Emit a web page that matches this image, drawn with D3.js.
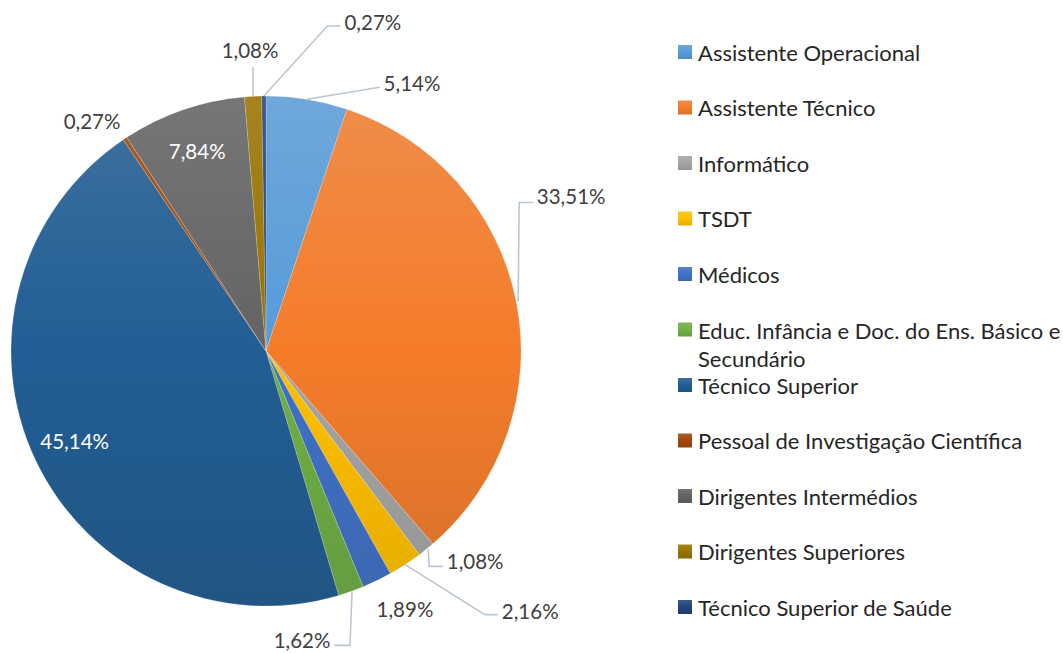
<!DOCTYPE html>
<html><head><meta charset="utf-8">
<script src="https://cdn.jsdelivr.net/npm/d3@7"></script>
<style>html,body{margin:0;padding:0;background:#fff;}svg{display:block;}</style>
</head><body>
<svg id="chart" width="1063" height="653"></svg>
<script>
const categories = ["Assistente Operacional","Assistente Técnico","Informático","TSDT","Médicos",
  "Educ. Infância e Doc. do Ens. Básico e Secundário","Técnico Superior","Pessoal de Investigação Científica",
  "Dirigentes Intermédios","Dirigentes Superiores","Técnico Superior de Saúde"];
const values = [5.14,33.51,1.08,2.16,1.89,1.62,45.14,0.27,7.84,1.08,0.27];
const valueLabels = ["5,14%","33,51%","1,08%","2,16%","1,89%","1,62%","45,14%","0,27%","7,84%","1,08%","0,27%"];
const colors = ["#5B9BD5","#ED7D31","#A5A5A5","#FFC000","#4472C4","#70AD47","#255E91","#9E480E","#636363","#997300","#264478"];
// label layout: mode "in" = inside; "out" = outside with offset from arc anchor; leader = elbow type
const labelLayout = [
  {mode:"out", dx:105, dy:-16, leader:"straight"},
  {mode:"out", dx:55, dy:-106, leader:"vh"},
  {mode:"out", dx:49, dy:12, leader:"vh"},
  {mode:"out", dx:125, dy:46, leader:"dh"},
  {mode:"out", dx:28, dy:28, leader:"none"},
  {mode:"out", dx:-49, dy:49, leader:"vh"},
  {mode:"in"},
  {mode:"out", dx:-33, dy:-18, leader:"none"},
  {mode:"in"},
  {mode:"out", dx:-3, dy:-46, leader:"vh"},
  {mode:"out", dx:109, dy:-74, leader:"dh"}
];

const svg = d3.select("#chart");
const cx = 266, cy = 351, R = 255;
const fontFam = "Lato, 'Open Sans', sans-serif";
const labelSize = 20.5, legendSize = 22;

function stopsFor(c){
  const h = d3.hsl(c); const mid = d3.hsl(h.h, Math.min(1,h.s*1.08), h.l).formatHex();
  return [
    [0, d3.interpolateRgb(c,"#fff")(0.12)],
    [0.5, mid],
    [1, d3.interpolateRgb(c,"#000")(0.1)]
  ];
}
const defs = svg.append("defs");
colors.forEach((c,i)=>{
  const g = defs.append("linearGradient").attr("id","g"+i)
    .attr("gradientUnits","userSpaceOnUse").attr("x1",0).attr("y1",-R).attr("x2",0).attr("y2",R);
  stopsFor(c).forEach(s=>g.append("stop").attr("offset",s[0]).attr("stop-color",s[1]));
  const lg = defs.append("linearGradient").attr("id","lg"+i).attr("x1",0).attr("y1",0).attr("x2",0).attr("y2",1);
  stopsFor(c).forEach(s=>lg.append("stop").attr("offset",s[0]).attr("stop-color",s[1]));
});

const pie = d3.pie().sort(null).value(d=>d.v);
const data = values.map((v,i)=>({v, i}));
const arcs = pie(data);
const arc = d3.arc().innerRadius(0).outerRadius(R);

const g = svg.append("g").attr("transform",`translate(${cx},${cy})`);
g.selectAll("path.slice").data(arcs).join("path").attr("class","slice")
  .attr("d",arc).attr("fill",d=>`url(#g${d.data.i})`)
  .attr("stroke","rgba(255,255,255,0.35)").attr("stroke-width",0.5);

const labelG = svg.append("g").attr("transform",`translate(${cx},${cy})`);
const lineColor = "#BCC6D3";
arcs.forEach((a,k)=>{
  const L = labelLayout[k];
  const mid = (a.startAngle+a.endAngle)/2;
  if (L.mode==="in"){
    const r = R*0.83;
    labelG.append("text").attr("x",Math.sin(mid)*r).attr("y",-Math.cos(mid)*r)
      .attr("text-anchor","middle").attr("dominant-baseline","central")
      .attr("font-family",fontFam).attr("font-size",labelSize).attr("fill","#fff")
      .text(valueLabels[k]);
    return;
  }
  const ax = Math.sin(mid)*R, ay = -Math.cos(mid)*R;
  const tx = ax+L.dx, ty = ay+L.dy;
  const t = labelG.append("text").attr("x",tx).attr("y",ty)
    .attr("text-anchor","middle").attr("dominant-baseline","central")
    .attr("font-family",fontFam).attr("font-size",labelSize).attr("fill","#404040")
    .text(valueLabels[k]);
  const w = t.node().getComputedTextLength();
  const left = tx - w/2 - 4, right = tx + w/2 + 4;
  let pts = null;
  const ex = L.dx>0 ? left : right;
  if (L.leader==="straight"){
    pts = [[ax,ay],[left,ty+4]];
  } else if (L.leader==="vh"){
    if (Math.abs(L.dx) < w/2) { pts = [[ax,ay],[ax,ty+17]]; }
    else {
      const vx = ax + (L.dx>0?3:-1);
      const hy = ty + (L.dy<0 ? 7 : 5);
      pts = [[ax+ (L.dx>0?2:1),ay],[vx,hy],[ex,hy]];
    }
  } else if (L.leader==="dh"){
    const hy = ty + 4;
    const bx = ex - (L.dx>0?13:-13);
    pts = [[ax,ay],[bx,hy],[ex,hy]];
  }
  if (pts){
    labelG.insert("path","text").attr("d",d3.line()(pts)).attr("fill","none")
      .attr("stroke",lineColor).attr("stroke-width",1.6);
  }
});

// legend
const lgG = svg.append("g");
const legX = 678, legY0 = 52, legStep = 55.5;
categories.forEach((c,i)=>{
  const y = legY0 + i*legStep;
  lgG.append("rect").attr("x",legX).attr("y",y-7).attr("width",14).attr("height",14).attr("fill",`url(#lg${i})`);
  const t = lgG.append("text").attr("x",legX+20).attr("y",y).attr("dominant-baseline","central")
    .attr("font-family",fontFam).attr("font-size",legendSize).attr("fill","#262626");
  if (c.length > 40){
    const parts = ["Educ. Infância e Doc. do Ens. Básico e","Secundário"];
    parts.forEach((p,j)=>t.append("tspan").attr("x",legX+20).attr("dy", j===0?0:28).text(p));
  } else t.text(c);
});
</script>
</body></html>
